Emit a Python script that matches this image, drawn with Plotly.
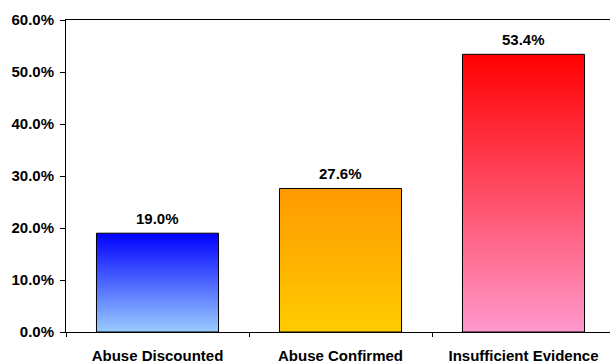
import plotly.graph_objects as go

# Case outcome shares (percent)
categories = ["Abuse Discounted", "Abuse Confirmed", "Insufficient Evidence"]
values = [19.0, 27.6, 53.4]
# gradient colours per bar: (bottom, top)
bottom_colors = ["#99ccff", "#ffcc00", "#ff99cc"]
top_colors = ["#0000ff", "#ff9900", "#ff0000"]

BAR_W = 0.667
FONT = dict(family="Liberation Sans, Arial, sans-serif", size=15, color="#000000")

fig = go.Figure()

for i, (cat, v) in enumerate(zip(categories, values)):
    x0, x1 = i - BAR_W / 2, i + BAR_W / 2
    fig.add_trace(go.Scatter(
        x=[x0, x0, x1, x1, x0],
        y=[0, v, v, 0, 0],
        mode="lines",
        fill="toself",
        fillgradient=dict(
            type="vertical",
            colorscale=[[0, bottom_colors[i]], [1, top_colors[i]]],
            start=0, stop=v,
        ),
        line=dict(color="#000000", width=1),
        hoverinfo="skip",
        showlegend=False,
        name=cat,
    ))
    fig.add_annotation(
        x=i, y=v, text=f"<b>{v:.1f}%</b>", showarrow=False,
        yanchor="bottom", yshift=4, font=FONT,
    )

fig.update_layout(
    width=610, height=363,
    margin=dict(l=66, r=0, t=20, b=31),
    paper_bgcolor="white", plot_bgcolor="white",
    font=FONT,
    showlegend=False,
)

fig.update_xaxes(
    range=[-0.5, 2.4727],
    tickvals=list(range(len(categories))),
    ticktext=[f"<b>{c}</b>" for c in categories],
    ticks="",
    ticklabelstandoff=10,
    minor=dict(tickvals=[-0.5, 0.5, 1.5], ticks="outside", ticklen=4,
               tickcolor="#000000", tickwidth=1),
    showline=True, linecolor="#000000", linewidth=1,
    mirror=True,
    showgrid=False, zeroline=False,
)

fig.update_yaxes(
    range=[0, 60],
    tickvals=[0, 10, 20, 30, 40, 50, 60],
    ticktext=[f"<b>{t:.1f}%</b>" for t in [0, 10, 20, 30, 40, 50, 60]],
    ticks="outside", ticklen=5, tickcolor="#000000", tickwidth=1,
    ticklabelstandoff=3,
    showline=True, linecolor="#000000", linewidth=1,
    showgrid=False, zeroline=False,
)

fig.write_html("out.html")
